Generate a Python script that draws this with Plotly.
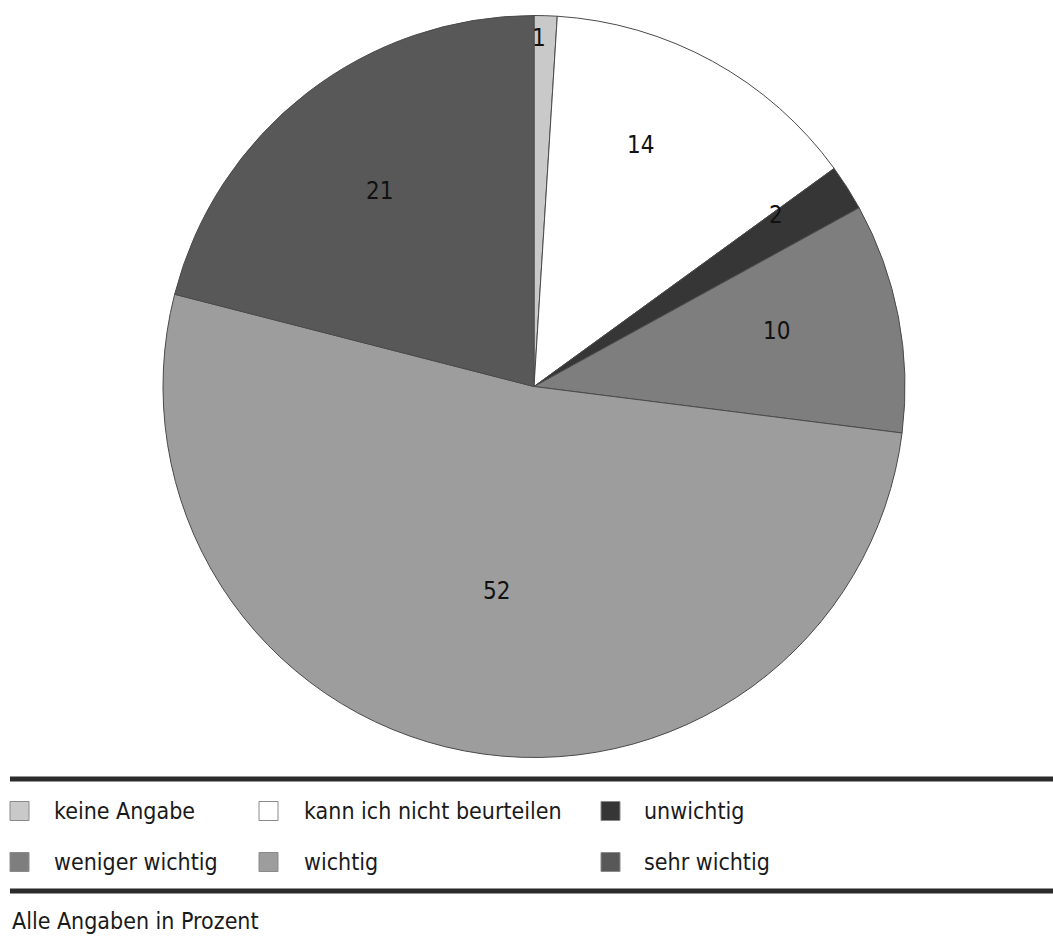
import math
import plotly.graph_objects as go

# Survey answers (percent), clockwise from 12 o'clock
categories = ["keine Angabe", "kann ich nicht beurteilen", "unwichtig",
              "weniger wichtig", "wichtig", "sehr wichtig"]
values = [1, 14, 2, 10, 52, 21]
colors = ["#c9c9c9", "#ffffff", "#363636", "#7e7e7e", "#9d9d9d", "#585858"]

# Legend grid: (row, column) of each category
legend_rows = [0, 0, 0, 1, 1, 1]
legend_cols = [0, 1, 2, 0, 1, 2]

W, H = 1053, 938
FONT = "Liberation Sans Narrow, DejaVu Sans Condensed, Roboto, sans-serif"

# Pie placement in pixels
cx, cy, r = 534, 386.5, 371


def px(x):
    return x / W


def py(y):
    return 1 - y / H


fig = go.Figure(go.Pie(
    labels=categories,
    values=values,
    sort=False,
    direction="clockwise",
    rotation=0,
    marker=dict(colors=colors, line=dict(color="#4a4a4a", width=1)),
    textinfo="none",
    hoverinfo="label+value",
    showlegend=False,
    domain=dict(x=[px(cx - r), px(cx + r)], y=[py(cy + r), py(cy - r)]),
))

# Value labels placed along each slice's mid angle
radial = [0.94, 0.71, 0.80, 0.67, 0.56, 0.67]
angle_shift = [-1.0, -5.0, -3.0, -2.0, -0.5, -0.5]
annotations = []
total = sum(values)
cum = 0
for v, rf, da in zip(values, radial, angle_shift):
    mid = (cum + v / 2) / total * 360 + da
    cum += v
    a = math.radians(mid)
    x = cx + rf * r * math.sin(a)
    y = cy - rf * r * math.cos(a)
    annotations.append(dict(
        x=px(x), y=py(y), xref="paper", yref="paper", text=str(v),
        showarrow=False, font=dict(family=FONT, size=24, color="#111111"),
        xanchor="center", yanchor="middle"))

# Legend drawn as squares and labels between two rules
shapes = []
sq_left = [10, 259, 601]
txt_left = [52, 302, 642]
row_y = [811, 862]
sq = 19
for name, col, rrow, c in zip(categories, legend_cols, legend_rows, colors):
    x0 = sq_left[col]
    yc = row_y[rrow]
    shapes.append(dict(
        type="rect", xref="paper", yref="paper",
        x0=px(x0), x1=px(x0 + sq), y0=py(yc + sq / 2), y1=py(yc - sq / 2),
        fillcolor=c, line=dict(color="#8a8a8a", width=1)))
    annotations.append(dict(
        x=px(txt_left[col]), y=py(yc), xref="paper", yref="paper",
        text=name, showarrow=False, xanchor="left", yanchor="middle",
        font=dict(family=FONT, size=23, color="#1a1a1a")))

for ly in (779, 891):
    shapes.append(dict(
        type="line", xref="paper", yref="paper",
        x0=px(10), x1=1, y0=py(ly), y1=py(ly),
        line=dict(color="#2b2b2b", width=5)))

annotations.append(dict(
    x=px(10), y=py(921), xref="paper", yref="paper",
    text="Alle Angaben in Prozent", showarrow=False,
    xanchor="left", yanchor="middle",
    font=dict(family=FONT, size=23, color="#1a1a1a")))

fig.update_layout(
    width=W, height=H,
    margin=dict(l=0, r=0, t=0, b=0),
    paper_bgcolor="white", plot_bgcolor="white",
    shapes=shapes, annotations=annotations,
)

fig.write_html("out.html", config={"displayModeBar": False})
